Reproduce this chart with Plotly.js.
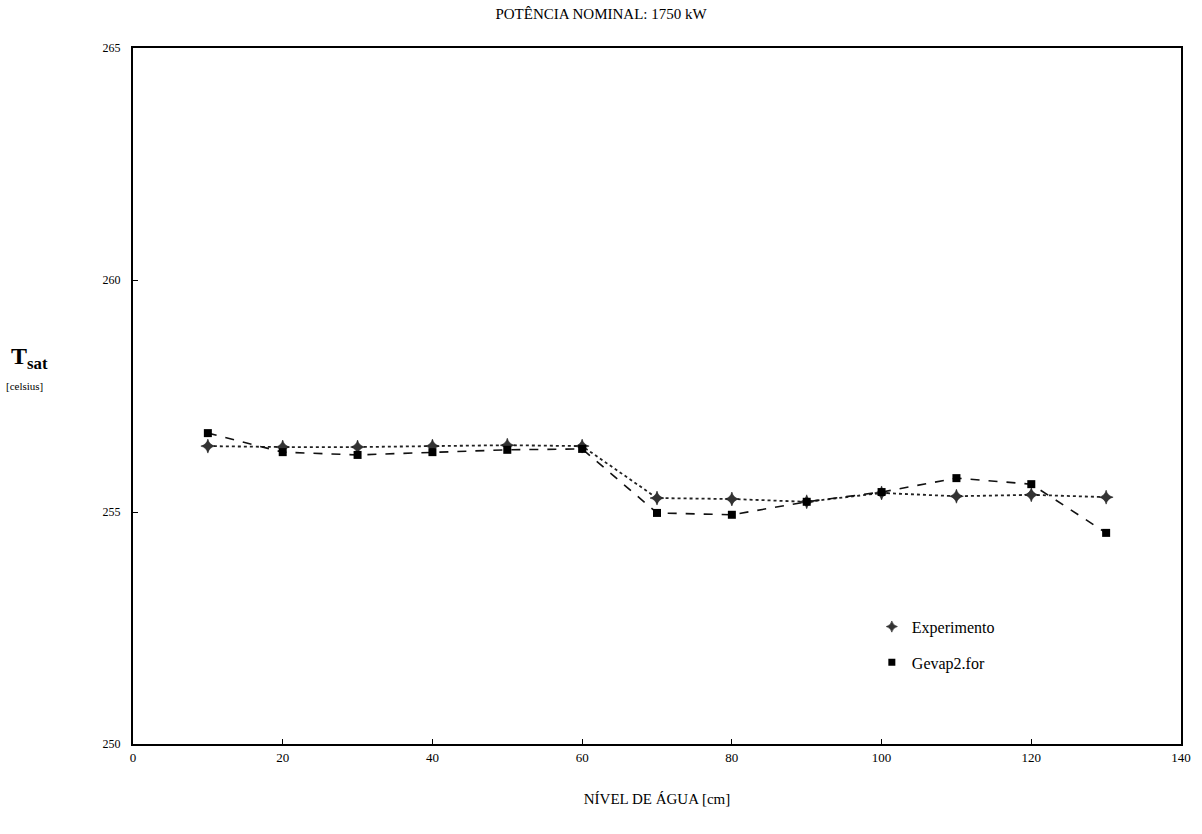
<!DOCTYPE html>
<html>
<head>
<meta charset="utf-8">
<script src="https://cdn.plot.ly/plotly-3.0.1.min.js"></script>
<style>
  html, body { margin: 0; padding: 0; background: #fff; }
  #chart { width: 1202px; height: 834px; }
</style>
</head>
<body>
<div id="chart"></div>
<script>
// Water level [cm]
const nivel = [10, 20, 30, 40, 50, 60, 70, 80, 90, 100, 110, 120, 130];
// Saturation temperature [celsius]
const tsatExperimento = [256.42, 256.40, 256.40, 256.42, 256.44, 256.42, 255.30, 255.28, 255.22, 255.41, 255.34, 255.37, 255.32];
const tsatGevap = [256.70, 256.29, 256.23, 256.29, 256.34, 256.36, 254.98, 254.94, 255.22, 255.43, 255.73, 255.60, 254.55];

const xTicks = [0, 20, 40, 60, 80, 100, 120, 140];
const yTicks = [250, 255, 260, 265];

const serif = '"Liberation Serif", "DejaVu Serif", serif';

const expMarker = { symbol: 'star-diamond', size: 10, color: '#333', line: { color: '#111', width: 0.5 } };
const gevMarker = { symbol: 'square', size: 8, color: '#000' };

const traces = [
  {
    x: nivel, y: tsatExperimento, name: 'Experimento', showlegend: false,
    mode: 'lines+markers', type: 'scatter',
    line: { color: '#222', width: 1.8, dash: 'dot' },
    marker: expMarker
  },
  {
    x: nivel, y: tsatGevap, name: 'Gevap2.for', showlegend: false,
    mode: 'lines+markers', type: 'scatter',
    line: { color: '#111', width: 1.6, dash: 'dash' },
    marker: gevMarker
  },
  // legend keys: symbol only, no line
  { x: [null], y: [null], name: 'Experimento', mode: 'markers', type: 'scatter',
    marker: Object.assign({}, expMarker, { size: 8 }), legendgroup: 'a' },
  { x: [null], y: [null], name: 'Gevap2.for', mode: 'markers', type: 'scatter',
    marker: Object.assign({}, gevMarker, { size: 7 }), legendgroup: 'b' }
];

const layout = {
  width: 1202, height: 834,
  margin: { l: 133, r: 21, t: 48, b: 90 },
  paper_bgcolor: '#fff', plot_bgcolor: '#fff',
  font: { family: serif, color: '#000', size: 12 },
  title: {
    text: 'POTÊNCIA NOMINAL: 1750 kW',
    font: { family: serif, size: 15, color: '#000' },
    x: 0.5, xanchor: 'center', y: 0.984, yanchor: 'middle'
  },
  xaxis: {
    range: [0, 140], tickvals: xTicks, ticktext: xTicks.map(String),
    showgrid: false, zeroline: false,
    showline: true, linecolor: '#000', linewidth: 2, mirror: true,
    ticks: 'inside', ticklen: 5, tickcolor: '#000',
    tickfont: { family: serif, size: 13 },
    title: { text: 'NÍVEL DE ÁGUA [cm]', font: { family: serif, size: 15 }, standoff: 30 }
  },
  yaxis: {
    range: [250, 265], tickvals: yTicks, ticktext: yTicks.map(String),
    showgrid: false, zeroline: false,
    showline: true, linecolor: '#000', linewidth: 2, mirror: true,
    ticks: 'inside', ticklen: 5, tickcolor: '#000',
    tickfont: { family: serif, size: 12 }, ticklabelstandoff: 8
  },
  legend: {
    x: 0.705, y: 0.193, xanchor: 'left', yanchor: 'top',
    bgcolor: 'rgba(255,255,255,0)', borderwidth: 0,
    font: { family: serif, size: 16, color: '#000' },
    tracegroupgap: 12, itemwidth: 30
  },
  showlegend: true,
  annotations: [
    {
      xref: 'paper', yref: 'paper', x: -0.118, y: 0.555,
      xanchor: 'left', yanchor: 'middle', showarrow: false,
      text: '<b>T</b><sub><b>sat</b></sub>',
      font: { family: serif, size: 24, color: '#000' }
    },
    {
      xref: 'paper', yref: 'paper', x: -0.123, y: 0.515,
      xanchor: 'left', yanchor: 'middle', showarrow: false,
      text: '[celsius]',
      font: { family: serif, size: 11, color: '#000' }
    }
  ]
};

Plotly.newPlot('chart', traces, layout, { displayModeBar: false, staticPlot: true });
</script>
</body>
</html>
